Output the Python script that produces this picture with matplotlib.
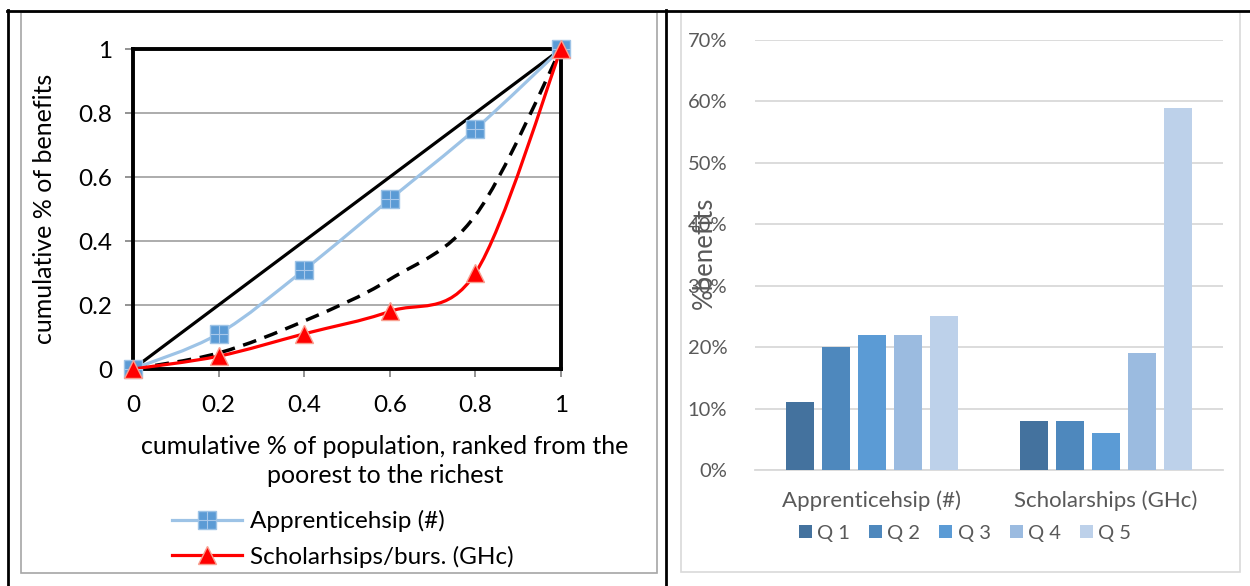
import numpy as np
import matplotlib
matplotlib.use('Agg')
import matplotlib.pyplot as plt
from matplotlib.path import Path
from matplotlib.patches import PathPatch, Rectangle
from matplotlib.lines import Line2D
from matplotlib.ticker import PercentFormatter

plt.rcParams['font.family'] = ['Lato', 'DejaVu Sans']

# concentration curves (left)
population_share = [0, 0.2, 0.4, 0.6, 0.8, 1]
apprenticeship_cum = [0, 0.11, 0.31, 0.53, 0.75, 1]
scholarship_cum = [0, 0.04, 0.11, 0.18, 0.30, 1]
reference_cum = [0, 0.05, 0.15, 0.28, 0.48, 1]
left_ticks = [0, 0.2, 0.4, 0.6, 0.8, 1]

# benefit shares by quintile (right)
programmes = ['Apprenticehsip (#)', 'Scholarships (GHc)']
quintiles = ['Q 1', 'Q 2', 'Q 3', 'Q 4', 'Q 5']
quintile_share = [
    [0.11, 0.08],
    [0.20, 0.08],
    [0.22, 0.06],
    [0.22, 0.19],
    [0.25, 0.59],
]
quintile_colors = ['#44729e', '#4e88bd', '#5b9bd5', '#9bbbe0', '#bdd1ea']

W, H = 1250, 586


def fx(px):
    return px / W


def fy(py):
    return 1 - py / H


def smooth_path(xs, ys):
    # excel-style smoothed line: cubic bezier through every point
    pts = np.column_stack([xs, ys]).astype(float)
    padded = np.vstack([pts[0], pts, pts[-1]])
    verts = [pts[0]]
    codes = [Path.MOVETO]
    for i in range(len(pts) - 1):
        p0, p1, p2, p3 = padded[i], padded[i + 1], padded[i + 2], padded[i + 3]
        verts += [p1 + (p2 - p0) / 6, p2 - (p3 - p1) / 6, p2]
        codes += [Path.CURVE4] * 3
    return Path(verts, codes)


fig = plt.figure(figsize=(12.5, 5.86), dpi=100)

# table borders and chart frames
fig.add_artist(Line2D([fx(7), fx(1250)], [fy(10.5), fy(10.5)], color='black', lw=2, transform=fig.transFigure))
fig.add_artist(Line2D([fx(8), fx(8)], [fy(10), fy(586)], color='black', lw=2, transform=fig.transFigure))
fig.add_artist(Line2D([fx(666), fx(666)], [fy(10), fy(586)], color='black', lw=2, transform=fig.transFigure))
fig.add_artist(Rectangle((fx(21), fy(573)), fx(657 - 21), (573 - 12) / H, fill=False,
                         ec='#a6a6a6', lw=1.2, transform=fig.transFigure))
fig.add_artist(Rectangle((fx(681), fy(572)), fx(1240 - 681), (572 - 12) / H, fill=False,
                         ec='#d9d9d9', lw=1.2, transform=fig.transFigure))

# ---- left: concentration curves ----
ax = fig.add_axes([fx(133), fy(369), fx(561 - 133), (369 - 49) / H])
ax.set_xlim(0, 1)
ax.set_ylim(0, 1)
for v in left_ticks[1:-1]:
    ax.axhline(v, color='#a6a6a6', lw=1.3, zorder=0)
for s in ax.spines.values():
    s.set_linewidth(2.8)
    s.set_color('black')
ax.set_xticks(left_ticks, [f'{v:g}' for v in left_ticks])
ax.set_yticks(left_ticks, [f'{v:g}' for v in left_ticks])
ax.tick_params(axis='both', direction='out', length=6, width=1.2, color='#808080',
               labelsize=17.5, labelcolor='black')
ax.tick_params(axis='x', pad=13)
ax.tick_params(axis='y', pad=9)

ax.plot([0, 1], [0, 1], color='black', lw=2.3, zorder=3)
dashed = PathPatch(smooth_path(population_share, reference_cum), fill=False, ec='black', lw=2.5, zorder=3)
dashed.set_linestyle((0, (4, 2.5)))
ax.add_patch(dashed)
ax.add_patch(PathPatch(smooth_path(population_share, apprenticeship_cum), fill=False,
                       ec='#9dc3e6', lw=2.3, zorder=4))
ax.plot(population_share, apprenticeship_cum, ls='none', marker='s', ms=13.5, mfc='#5b9bd5',
        mec='#9dc3e6', mew=1, zorder=5, clip_on=False)
ax.plot(population_share, apprenticeship_cum, ls='none', marker='+', ms=13.5, mew=0.8,
        color='#a8c8ea', zorder=5, clip_on=False)
ax.add_patch(PathPatch(smooth_path(population_share, scholarship_cum), fill=False,
                       ec='#ff0000', lw=2.3, zorder=6))
ax.plot(population_share, scholarship_cum, ls='none', marker='^', ms=13.5, mfc='#ff0000',
        mec='#f8a090', mew=1, zorder=7, clip_on=False)

ax.set_ylabel('cumulative % of benefits', fontsize=18, va='center')
ax.yaxis.set_label_coords(-0.206, 0.5)
ax.set_xlabel('cumulative % of population, ranked from the\npoorest to the richest', fontsize=18,
              va='center', linespacing=1.35)
ax.xaxis.set_label_coords(0.589, -0.2875)

h_app = (Line2D([], [], color='#9dc3e6', lw=2.3, marker='s', ms=13.5, mfc='#5b9bd5', mec='#9dc3e6', mew=1),
         Line2D([], [], ls='none', marker='+', ms=13.5, mew=0.8, color='#a8c8ea'))
h_sch = Line2D([], [], color='#ff0000', lw=2.3, marker='^', ms=13.5, mfc='#ff0000', mec='#f8a090', mew=1)
fig.legend([h_app, h_sch], ['Apprenticehsip (#)', 'Scholarhsips/burs. (GHc)'],
           loc='upper left', bbox_to_anchor=(fx(172), fy(510)), bbox_transform=fig.transFigure,
           frameon=False, fontsize=17.5, handlelength=2.9, handletextpad=0.3, borderpad=0,
           borderaxespad=0, labelspacing=0.55)

# ---- right: quintile bars ----
bx = fig.add_axes([fx(755), fy(470), fx(1223 - 755), (470 - 40) / H])
xpos = np.arange(len(programmes))
pitch = 0.154
for i, q in enumerate(quintiles):
    bx.bar(xpos + (i - 2) * pitch, quintile_share[i], width=0.12, color=quintile_colors[i],
           label=q, zorder=3)
bx.set_xlim(-0.5, 1.5)
bx.set_ylim(0, 0.7)
bx.set_yticks(np.arange(0, 0.71, 0.1))
bx.yaxis.set_major_formatter(PercentFormatter(1.0, decimals=0))
bx.grid(axis='y', color='#d9d9d9', lw=1.3, zorder=0)
for side in ['top', 'right', 'left']:
    bx.spines[side].set_visible(False)
bx.spines['bottom'].set_color('#d9d9d9')
bx.spines['bottom'].set_linewidth(1.3)
bx.set_xticks(xpos, programmes)
bx.tick_params(axis='both', length=0, labelsize=14.5, labelcolor='#595959')
bx.tick_params(axis='y', pad=20)
bx.tick_params(axis='x', pad=15, labelsize=16)
bx.set_ylabel('%benefits', fontsize=18.5, color='#595959', va='center')
bx.yaxis.set_label_coords(-0.109, 0.505)
bx.legend(loc='center', bbox_to_anchor=(fx(965), fy(533)), bbox_transform=fig.transFigure,
          ncol=5, frameon=False, fontsize=14.5, labelcolor='#595959', handlelength=0.65,
          handleheight=0.65, handletextpad=0.25, columnspacing=0.95, borderpad=0)

fig.savefig('out.png', dpi=100)
